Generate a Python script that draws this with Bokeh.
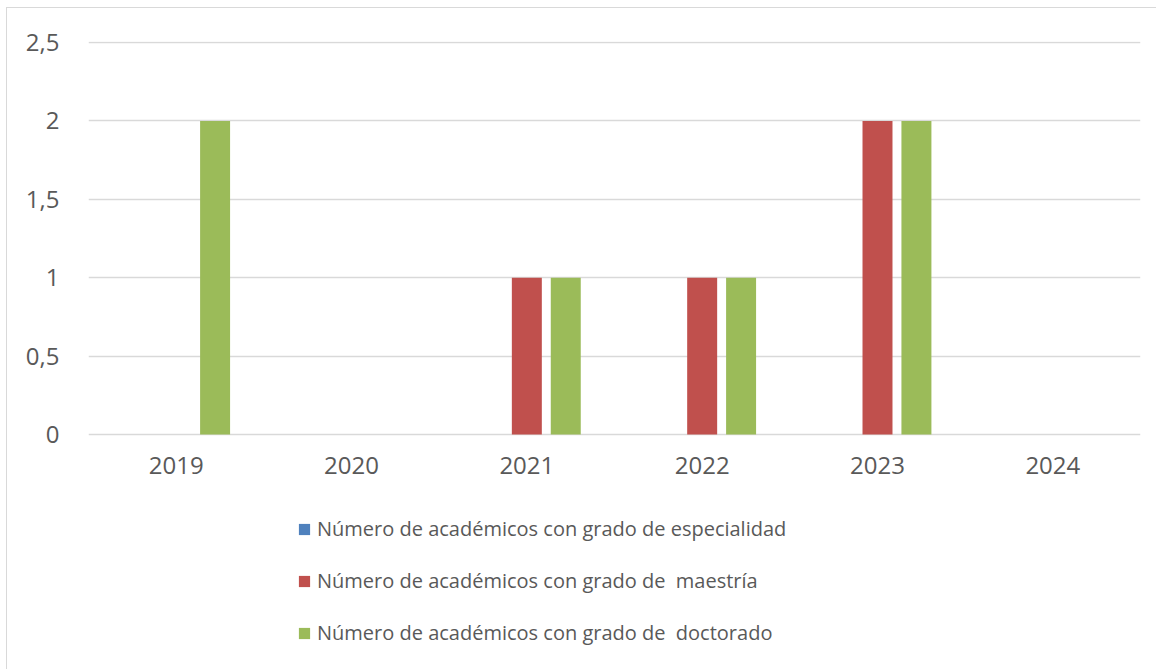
from bokeh.plotting import figure
from bokeh.models import ColumnDataSource, Legend, LegendItem, FixedTicker
from bokeh.transform import dodge
from bokeh.embed import file_html
from bokeh.resources import INLINE

years = ["2019", "2020", "2021", "2022", "2023", "2024"]
especialidad = [0, 0, 0, 0, 0, 0]
maestria = [0, 0, 1, 1, 2, 0]
doctorado = [2, 0, 1, 1, 2, 0]
series_names = [
    "Número de académicos con grado de especialidad",
    "Número de académicos con grado de  maestría",
    "Número de académicos con grado de  doctorado",
]
colors = ["#4F81BD", "#C0504D", "#9BBB59"]
y_ticks = [0, 0.5, 1, 1.5, 2, 2.5]
y_tick_labels = ["0", "0,5", "1", "1,5", "2", "2,5"]

source = ColumnDataSource(dict(years=years, esp=especialidad, mae=maestria, doc=doctorado))

FONT = "Open Sans"
TXT = "#595959"
GRID = "#d9d9d9"

p = figure(x_range=years, y_range=(-1.5051, 2.5064), width=1150, height=662,
           output_backend="svg", toolbar_location=None,
           min_border_left=81, min_border_right=17, min_border_top=33, min_border_bottom=0)
p.styles = {"margin-left": "6px", "margin-top": "7px",
            "border-left": "1px solid #d9d9d9", "border-top": "1px solid #d9d9d9"}
p.outline_line_color = None
p.background_fill_color = "white"
p.border_fill_color = "white"

bw = 0.171
off = 0.222
r1 = p.vbar(x=dodge("years", -off, range=p.x_range), top="esp", width=bw, source=source,
            fill_color=colors[0], line_color=None)
r2 = p.vbar(x=dodge("years", 0, range=p.x_range), top="mae", width=bw, source=source,
            fill_color=colors[1], line_color=None)
r3 = p.vbar(x=dodge("years", off, range=p.x_range), top="doc", width=bw, source=source,
            fill_color=colors[2], line_color=None)

p.xgrid.grid_line_color = None
p.ygrid.grid_line_color = GRID
p.ygrid.grid_line_width = 1.5
p.yaxis.ticker = FixedTicker(ticks=y_ticks)
p.yaxis.major_label_overrides = {t: l for t, l in zip(y_ticks, y_tick_labels)}
p.xaxis.fixed_location = 0

for ax in (p.xaxis, p.yaxis):
    ax.axis_line_color = None
    ax.major_tick_line_color = None
    ax.minor_tick_line_color = None
    ax.major_label_text_font = FONT
    ax.major_label_text_font_size = "24px"
    ax.major_label_text_color = TXT
p.yaxis.major_label_standoff = 23
p.xaxis.major_label_standoff = 16

legend = Legend(items=[LegendItem(label=n, renderers=[r]) for n, r in zip(series_names, [r1, r2, r3])],
                orientation="vertical", location=(209, 24))
legend.label_text_font = FONT
legend.label_text_font_size = "20px"
legend.label_text_color = TXT
legend.glyph_width = 14
legend.glyph_height = 14
legend.label_standoff = 6
legend.label_height = 24
legend.spacing = 25
legend.border_line_color = None
legend.background_fill_alpha = 0
legend.padding = 0
legend.margin = 0
p.add_layout(legend, "center")

open("out.html", "w").write(file_html(p, INLINE))
